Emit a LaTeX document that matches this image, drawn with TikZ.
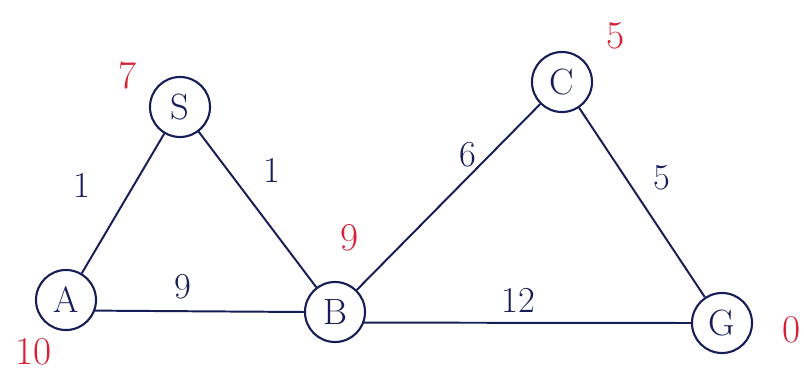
\documentclass[tikz,border=0pt]{standalone}
\usepackage{tikz}
\usetikzlibrary{positioning}

\definecolor{ink}{RGB}{22,30,88}
\definecolor{redink}{RGB}{214,32,52}

\begin{document}
\begin{tikzpicture}[
    x=0.025cm, y=-0.025cm,
    vertex/.style={circle, draw=ink, line width=1.5pt, minimum size=1.5cm,
        inner sep=0pt, text=ink, font=\fontsize{26}{28}\selectfont},
    edge/.style={ink, line width=1.4pt},
    weight/.style={text=ink, font=\fontsize{26}{28}\selectfont},
    hval/.style={text=redink, font=\fontsize{28}{30}\selectfont}
]
\useasboundingbox (0,0) rectangle (804,374);

% ==================== VERTICES ====================
\node[vertex] (S) at (180,107) {S};
\node[vertex] (A) at (66,300) {A};
\node[vertex] (B) at (335,312) {B};
\node[vertex] (C) at (562,82) {C};
\node[vertex] (G) at (722,323) {G};

% ==================== EDGES ====================
\draw[edge] (S) -- (A);
\draw[edge] (S) -- (B);
\draw[edge] (A.-20) -- (B.west);
\draw[edge] (B) -- (C);
\draw[edge] (C) -- (G);
\draw[edge] (B.-20) -- (G.west);

% Edge weights
\node[weight] (wSA) at (82,185) {1};
\node[weight] (wSB) at (272,170) {1};
\node[weight] (wAB) at (183,287) {9};
\node[weight] (wBC) at (468,155) {6};
\node[weight] (wCG) at (662,178) {5};
\node[weight] (wBG) at (518,300) {12};

% ==================== HEURISTIC VALUES ====================
\node[hval] (hS) at (128,75) {7};
\node[hval] (hA) at (34,352) {10};
\node[hval] (hB) at (350,238) {9};
\node[hval] (hC) at (616,36) {5};
\node[hval] (hG) at (792,330) {0};

\end{tikzpicture}
\end{document}
